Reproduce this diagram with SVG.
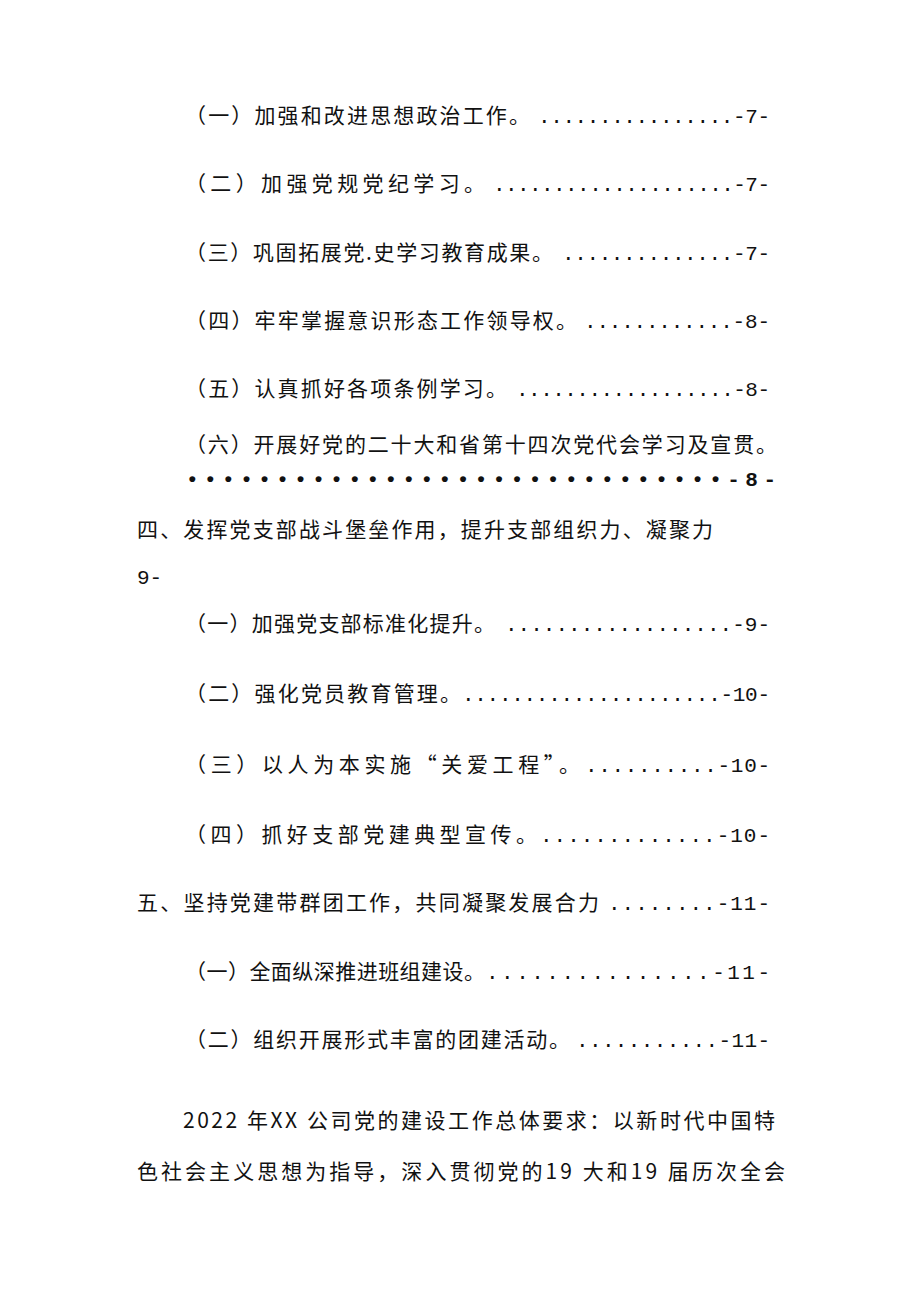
<svg xmlns="http://www.w3.org/2000/svg" width="920" height="1301" viewBox="0 0 920 1301">
<style>
.c{font-family:"Noto Sans CJK SC","Liberation Sans",sans-serif;font-size:21px;fill:#111}
.d{font-family:"Liberation Mono","DejaVu Sans Mono",monospace;font-size:21px;fill:#111}
</style>
<rect width="920" height="1301" fill="#fff"/>
<g id="toc">
<text class="c" x="185" y="123" textLength="345">（一）加强和改进思想政治工作。</text>
<text class="d" x="538" y="123" textLength="232">................-7-</text>
<text class="c" x="185" y="191" textLength="300">（二）加强党规党纪学习。</text>
<text class="d" x="493" y="191" textLength="277">....................-7-</text>
<text class="c" x="185" y="260" textLength="368">（三）巩固拓展党.史学习教育成果。</text>
<text class="d" x="562" y="260" textLength="208">..............-7-</text>
<text class="c" x="185" y="328" textLength="392">（四）牢牢掌握意识形态工作领导权。</text>
<text class="d" x="584" y="328" textLength="186">............-8-</text>
<text class="c" x="185" y="396" textLength="322">（五）认真抓好各项条例学习。</text>
<text class="d" x="516" y="396" textLength="254">..................-8-</text>
<text class="c" x="185" y="452" textLength="592">（六）开展好党的二十大和省第十四次党代会学习及宣贯。</text>
<text class="d" x="186" y="486" textLength="590" style="font-weight:bold">••••••••••••••••••••••••••••••-8-</text>
<text class="c" x="137" y="537" textLength="576">四、发挥党支部战斗堡垒作用，提升支部组织力、凝聚力</text>
<text class="d" x="137" y="584">9-</text>
<text class="c" x="185" y="631" textLength="310">（一）加强党支部标准化提升。</text>
<text class="d" x="505" y="631" textLength="265">..................-9-</text>
<text class="c" x="185" y="701" textLength="276">（二）强化党员教育管理。</text>
<text class="d" x="462" y="701" textLength="308">.....................-10-</text>
<text class="c" x="185" y="772" textLength="395">（三）以人为本实施“关爱工程”。</text>
<text class="d" x="585" y="772" textLength="185">..........-10-</text>
<text class="c" x="185" y="842" textLength="352">（四）抓好支部党建典型宣传。</text>
<text class="d" x="540" y="842" textLength="230">.............-10-</text>
<text class="c" x="137" y="910" textLength="462">五、坚持党建带群团工作，共同凝聚发展合力</text>
<text class="d" x="608" y="910" textLength="162">........-11-</text>
<text class="c" x="185" y="979" textLength="300">（一）全面纵深推进班组建设。</text>
<text class="d" x="486" y="979" textLength="284">...............-11-</text>
<text class="c" x="185" y="1047" textLength="385">（二）组织开展形式丰富的团建活动。</text>
<text class="d" x="576" y="1047" textLength="194">...........-11-</text>
</g>
<g id="body">
<text class="c" x="183" y="1128" textLength="592">2022 年XX 公司党的建设工作总体要求：以新时代中国特</text>
<text class="c" x="137" y="1179" textLength="648">色社会主义思想为指导，深入贯彻党的19 大和19 届历次全会</text>
</g>
</svg>
